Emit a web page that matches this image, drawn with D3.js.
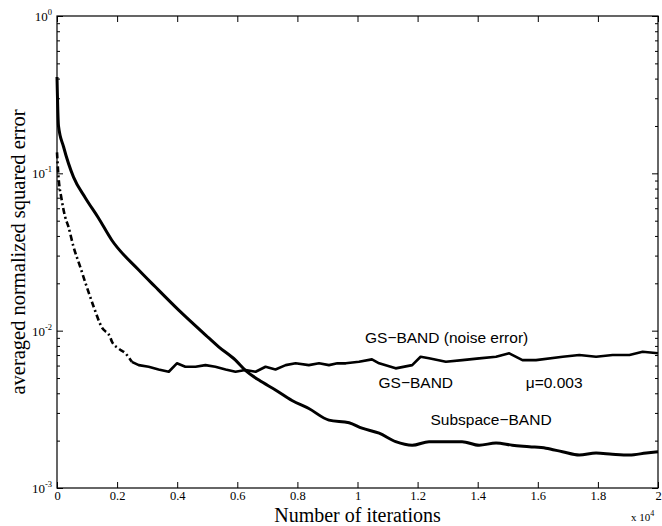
<!DOCTYPE html>
<html lang="en">
<head>
  <meta charset="UTF-8">
  <title>averaged normalized squared error</title>
  <style>
      body { margin: 0; background: #fff; }
      .frame { fill: none; stroke: #000; stroke-width: 1.2px; }
      .axis path { stroke: none; }
      .axis line { stroke: #000; stroke-width: 1px; }
      .axis text { font-family: "Liberation Serif", "Times New Roman", serif; font-size: 12.5px; fill: #000; }
      .note { font-family: "Liberation Sans", Arial, sans-serif; font-size: 15.5px; fill: #000; }
  </style>
</head>
<body>
<div id="chart"></div>
<script src="https://d3js.org/d3.v7.min.js"></script>
<script>
  // iterations, in units of 10^4
  const subspaceX = [0, 0.005, 0.022, 0.055, 0.094, 0.138, 0.182, 0.272, 0.327, 0.405, 0.505, 0.538, 0.594, 0.627,
    0.672, 0.727, 0.782, 0.838, 0.905, 0.972, 1.015, 1.072, 1.127, 1.182, 1.238, 1.294, 1.348, 1.405, 1.461,
    1.515, 1.572, 1.627, 1.682, 1.738, 1.794, 1.848, 1.905, 1.961, 2.0];
  const subspaceY = [0.41, 0.2, 0.147, 0.0946, 0.07, 0.052, 0.0377, 0.0243, 0.019, 0.0135, 0.009, 0.0079, 0.0065, 0.0056,
    0.00485, 0.0042, 0.0036, 0.0032, 0.0027, 0.0026, 0.0024, 0.00223, 0.00197, 0.00187, 0.00197, 0.00197, 0.00197,
    0.00187, 0.00193, 0.00187, 0.00183, 0.00179, 0.0017, 0.00162, 0.00167, 0.00164, 0.00162, 0.00167, 0.0017];

  const gsX = [0, 0.005, 0.015, 0.027, 0.038, 0.055, 0.077, 0.099, 0.122, 0.149, 0.177, 0.183, 0.205, 0.227, 0.249,
    0.272, 0.305, 0.338, 0.372, 0.399, 0.427, 0.461, 0.494, 0.527, 0.561, 0.594, 0.627, 0.661, 0.694, 0.727, 0.761,
    0.794, 0.838, 0.872, 0.905, 0.933, 0.961, 1.005, 1.048, 1.072, 1.127, 1.182, 1.21, 1.238, 1.294, 1.349, 1.405,
    1.461, 1.505, 1.549, 1.594, 1.683, 1.738, 1.794, 1.849, 1.905, 1.949, 2.0];
  const gsY = [0.136, 0.095, 0.069, 0.053, 0.0458, 0.0341, 0.0255, 0.019, 0.0142, 0.0105, 0.0091, 0.0085, 0.0077,
    0.0072, 0.00634, 0.00604, 0.0059, 0.00567, 0.00548, 0.0062, 0.0059, 0.0059, 0.00604, 0.0059, 0.00567, 0.00548,
    0.00562, 0.00548, 0.0059, 0.00567, 0.00604, 0.0062, 0.00604, 0.0062, 0.00604, 0.0062, 0.0062, 0.00634, 0.00657,
    0.0062, 0.00576, 0.00604, 0.00683, 0.00667, 0.00634, 0.0065, 0.00667, 0.00683, 0.00718, 0.0065, 0.0065, 0.00683,
    0.007, 0.00683, 0.007, 0.007, 0.00735, 0.00718];
  const gsDashEnd = 0.25; // dash-dot drawn up to here, noisy part after

  const xTicks = [0, 0.2, 0.4, 0.6, 0.8, 1, 1.2, 1.4, 1.6, 1.8, 2];
  const yTicks = [1e-3, 1e-2, 1e-1, 1e0];
  const yTickExp = ["-3", "-2", "-1", "0"];

  const notes = [
    {text: "GS\u2212BAND (noise error)", x: 1.025, y: 0.0083},
    {text: "GS\u2212BAND", x: 1.07, y: 0.0043},
    {text: "\u03bc=0.003", x: 1.56, y: 0.0043},
    {text: "Subspace\u2212BAND", x: 1.243, y: 0.0025}
  ];

  document.addEventListener('DOMContentLoaded', function () {
    const margin = {top: 16, right: 4, bottom: 38, left: 57},
      width = 662 - margin.left - margin.right,
      height = 526 - margin.top - margin.bottom;

    const svg = d3.select("#chart").append("svg")
      .attr("width", width + margin.left + margin.right)
      .attr("height", height + margin.top + margin.bottom)
      .append("g")
      .attr("transform", `translate(${margin.left},${margin.top})`);

    const x = d3.scaleLinear().domain([0, 2]).range([0, width]);
    const y = d3.scaleLog().domain([1e-3, 1]).range([height, 0]);

    // minor log ticks 2..9 in each decade
    const minor = [];
    yTicks.slice(0, -1).forEach(d => { for (let k = 2; k <= 9; k++) minor.push(d * k); });

    // x axes (ticks pointing in)
    svg.append("g").attr("class", "axis")
      .attr("transform", `translate(0,${height})`)
      .call(d3.axisBottom(x).tickValues(xTicks).tickSizeInner(-6).tickSizeOuter(0).tickPadding(3)
        .tickFormat(d3.format("~g")));
    svg.append("g").attr("class", "axis")
      .call(d3.axisTop(x).tickValues(xTicks).tickSizeInner(-6).tickSizeOuter(0).tickFormat(""));

    // y axes
    svg.append("g").attr("class", "axis")
      .call(d3.axisLeft(y).tickValues(yTicks).tickSizeInner(-6).tickSizeOuter(0).tickFormat(""));
    svg.append("g").attr("class", "axis")
      .call(d3.axisLeft(y).tickValues(minor).tickSizeInner(-3).tickSizeOuter(0).tickFormat(""));
    svg.append("g").attr("class", "axis")
      .attr("transform", `translate(${width},0)`)
      .call(d3.axisRight(y).tickValues(yTicks).tickSizeInner(-6).tickSizeOuter(0).tickFormat(""));
    svg.append("g").attr("class", "axis")
      .attr("transform", `translate(${width},0)`)
      .call(d3.axisRight(y).tickValues(minor).tickSizeInner(-3).tickSizeOuter(0).tickFormat(""));

    // y tick labels 10^n
    const yl = svg.append("g").attr("class", "axis");
    yTicks.forEach((d, i) => {
      const t = yl.append("text")
        .attr("x", -5)
        .attr("y", y(d) + 5)
        .attr("text-anchor", "end")
        .style("font-size", "13px");
      t.append("tspan").text("10");
      t.append("tspan").attr("dy", -6).style("font-size", "8.5px").text(yTickExp[i]);
    });

    svg.append("rect").attr("class", "frame")
      .attr("width", width).attr("height", height);

    const line = d3.line().x(d => x(d[0])).y(d => y(d[1]));
    const smooth = d3.line().x(d => x(d[0])).y(d => y(d[1])).curve(d3.curveMonotoneX);

    const sub = subspaceX.map((v, i) => [v, subspaceY[i]]);
    const gs = gsX.map((v, i) => [v, gsY[i]]);
    const gsA = gs.filter(d => d[0] <= gsDashEnd);
    const gsB = gs.filter(d => d[0] >= gsX[gsA.length - 1]);

    svg.append("path").datum(gsA)
      .attr("fill", "none").attr("stroke", "#000").attr("stroke-width", 2.6)
      .attr("stroke-dasharray", "6,3,2,3")
      .attr("d", smooth);
    svg.append("path").datum(gsB)
      .attr("fill", "none").attr("stroke", "#000").attr("stroke-width", 2.6)
      .attr("stroke-linejoin", "round")
      .attr("d", line);
    svg.append("path").datum(sub)
      .attr("fill", "none").attr("stroke", "#000").attr("stroke-width", 3)
      .attr("stroke-linejoin", "round")
      .attr("d", smooth);

    notes.forEach(n => {
      svg.append("text").attr("class", "note")
        .attr("x", x(n.x)).attr("y", y(n.y))
        .text(n.text);
    });

    // axis labels
    svg.append("text")
      .attr("x", width / 2)
      .attr("y", height + 33.5)
      .attr("text-anchor", "middle")
      .style("font-family", "'Liberation Serif', 'Times New Roman', serif")
      .style("font-size", "20px")
      .text("Number of iterations");

    svg.append("text")
      .attr("transform", "rotate(-90)")
      .attr("x", -height / 2)
      .attr("y", -margin.left + 25)
      .attr("text-anchor", "middle")
      .style("font-family", "'Liberation Serif', 'Times New Roman', serif")
      .style("font-size", "20.5px")
      .text("averaged normalized squared error");

    const e = svg.append("text")
      .attr("x", width - 27)
      .attr("y", height + 33)
      .style("font-family", "'Liberation Serif', 'Times New Roman', serif")
      .style("font-size", "11px");
    e.append("tspan").text("x 10");
    e.append("tspan").attr("dy", -5).style("font-size", "8px").text("4");
  });
</script>
</body>
</html>
